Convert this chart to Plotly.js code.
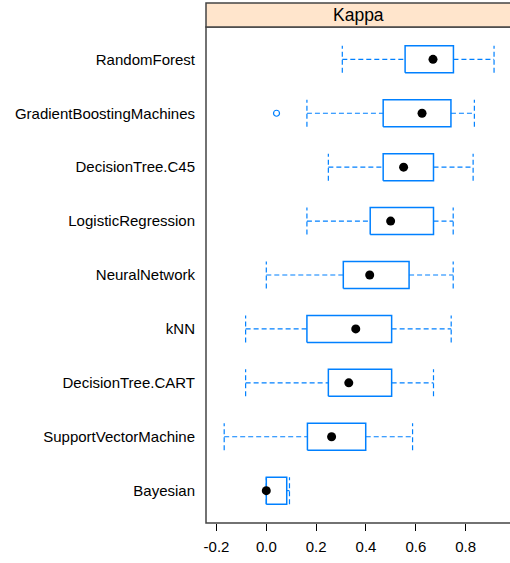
<!DOCTYPE html>
<html>
<head>
<meta charset="utf-8">
<script src="https://cdn.plot.ly/plotly-3.0.1.min.js"></script>
<style>html,body{margin:0;padding:0;background:#fff;}#chart{width:510px;height:563px;}</style>
</head>
<body>
<div id="chart"></div>
<script>
// Models listed bottom to top
const models = ["Bayesian","SupportVectorMachine","DecisionTree.CART","kNN","NeuralNetwork","LogisticRegression","DecisionTree.C45","GradientBoostingMachines","RandomForest"];
const lowerWhisker = [0.000, -0.169, -0.083, -0.083, 0.000, 0.163, 0.249, 0.163, 0.305];
const q1           = [0.000,  0.165,  0.249,  0.163, 0.309, 0.417, 0.469, 0.469, 0.557];
const median       = [0.000,  0.262,  0.331,  0.359, 0.415, 0.499, 0.551, 0.625, 0.669];
const q3           = [0.082,  0.399,  0.503,  0.503, 0.573, 0.671, 0.671, 0.741, 0.751];
const upperWhisker = [0.093,  0.587,  0.671,  0.742, 0.750, 0.750, 0.830, 0.835, 0.914];
const outlierModel = ["GradientBoostingMachines"];
const outlierValue = [0.041];
const xTickVals = [-0.2, 0.0, 0.2, 0.4, 0.6, 0.8];
const xTickText = ["-0.2", "0.0", "0.2", "0.4", "0.6", "0.8"];
const panelTitle = "Kappa";

const blue = "#0080ff";
const hb = 0.25; // half box height (category units)

const pos = models.map((m, i) => i);

// boxes
const bx = [], by = [];
pos.forEach((p, i) => {
  bx.push(q1[i], q3[i], q3[i], q1[i], q1[i], null);
  by.push(p - hb, p - hb, p + hb, p + hb, p - hb, null);
});
// whiskers + caps
const wx = [], wy = [];
pos.forEach((p, i) => {
  if (lowerWhisker[i] < q1[i]) {
    wx.push(lowerWhisker[i], q1[i], null);
    wy.push(p, p, null);
  }
  wx.push(lowerWhisker[i], lowerWhisker[i], null);
  wy.push(p - hb, p + hb, null);
  if (upperWhisker[i] > q3[i]) {
    wx.push(q3[i], upperWhisker[i], null);
    wy.push(p, p, null);
  }
  wx.push(upperWhisker[i], upperWhisker[i], null);
  wy.push(p - hb, p + hb, null);
});

const traces = [
  {type: "scatter", mode: "lines", x: wx, y: wy, line: {color: blue, width: 1.2, dash: "5px,3px"}, hoverinfo: "skip", showlegend: false},
  {type: "scatter", mode: "lines", x: bx, y: by, line: {color: blue, width: 1.5}, hoverinfo: "skip", showlegend: false},
  {type: "scatter", mode: "markers", x: median, y: pos, marker: {color: "#000", size: 9}, showlegend: false},
  {type: "scatter", mode: "markers", x: outlierValue, y: outlierModel.map(m => models.indexOf(m)),
   marker: {color: blue, size: 6, symbol: "circle-open", line: {color: blue, width: 1.2}}, showlegend: false}
];

const stripTop = 1 + 24 / 496;
const layout = {
  width: 510, height: 563,
  margin: {l: 206, r: 0, t: 27, b: 40, pad: 0},
  paper_bgcolor: "#fff", plot_bgcolor: "#fff",
  font: {family: "Liberation Sans, Arial, sans-serif", size: 15, color: "#000"},
  showlegend: false,
  xaxis: {
    range: [-0.242, 0.978], tickvals: xTickVals, ticktext: xTickText,
    ticks: "outside", ticklen: 7, tickwidth: 1, tickcolor: "#000",
    ticklabelstandoff: 3,
    showgrid: false, zeroline: false, showline: false,
    tickfont: {size: 15, color: "#000"}
  },
  yaxis: {
    range: [-0.6, 8.6], tickvals: pos, ticktext: models,
    ticks: "", showgrid: false, zeroline: false, showline: false,
    ticklabelstandoff: 10,
    tickfont: {size: 15, color: "#000"}
  },
  shapes: [
    {type: "rect", xref: "paper", yref: "paper", x0: 0, x1: 1.02, y0: 0, y1: 1,
     line: {color: "#444", width: 1.5}, fillcolor: "rgba(0,0,0,0)", layer: "above"},
    {type: "rect", xref: "paper", yref: "paper", x0: 0, x1: 1.02, y0: 1, y1: stripTop,
     line: {color: "#444", width: 1.5}, fillcolor: "#ffe5cc", layer: "above"}
  ],
  annotations: [
    {text: panelTitle, xref: "paper", yref: "paper", x: 0.5, y: (1 + stripTop) / 2,
     xanchor: "center", yanchor: "middle", showarrow: false,
     font: {size: 17.5, color: "#000", family: "Liberation Sans, Arial, sans-serif"}}
  ]
};

Plotly.newPlot("chart", traces, layout, {displayModeBar: false, staticPlot: true});
</script>
</body>
</html>
